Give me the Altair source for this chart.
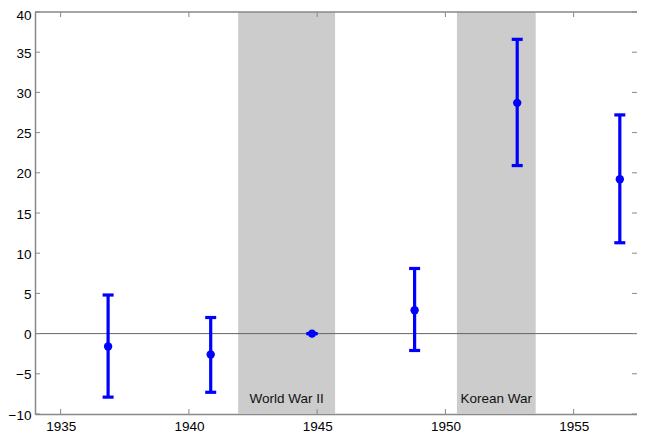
import altair as alt
import pandas as pd

# ---- data ----
years = [1936.85, 1940.85, 1944.8, 1948.8, 1952.8, 1956.8]
means = [-1.6, -2.6, 0.0, 2.9, 28.7, 19.2]
lower = [-7.9, -7.3, 0.0, -2.1, 20.9, 11.3]
upper = [4.8, 2.0, 0.0, 8.1, 36.6, 27.2]

war_names = ["World War II", "Korean War"]
war_start = [1941.92, 1950.45]
war_end = [1945.7, 1953.52]

x_ticks = [1935, 1940, 1945, 1950, 1955]
y_ticks = [-10, -5, 0, 5, 10, 15, 20, 25, 30, 35, 40]

FONT = "Liberation Sans"
W, H = 602, 402
BLUE = "#0000ff"
FRAME = "#888888"

df = pd.DataFrame({"year": years, "mean": means, "lo": lower, "hi": upper})
caps = pd.DataFrame({"year": years * 2, "v": lower + upper})
wars = pd.DataFrame({"name": war_names, "start": war_start, "end": war_end})
xt = pd.DataFrame({"t": x_ticks})
yt = pd.DataFrame({"t": y_ticks})
zero = pd.DataFrame({"v": [0]})
one = pd.DataFrame({"a": [0]})

# the reference's x-axis runs past the picture's right edge
xs = alt.Scale(domain=[1934, 1957.47], nice=False, zero=False)
ys = alt.Scale(domain=[-10, 40], nice=False, zero=False)
xaxis = alt.Axis(values=x_ticks, format="d", title=None, grid=False, ticks=False, tickSize=0,
                 labelPadding=5, domainColor=FRAME, domainWidth=1.5,
                 labelFontSize=13.5, labelColor="#000", labelFont=FONT, labelFlush=False)
yaxis = alt.Axis(values=y_ticks, title=None, grid=False, ticks=False, tickSize=0,
                 labelPadding=4,
                 labelOffset={"condition": {"test": "datum.value == 40", "value": 3}, "value": 1},
                 domainColor=FRAME, domainWidth=1.5,
                 labelFontSize=13.5, labelColor="#000", labelFont=FONT, labelFlush=False)


def X(f):
    return alt.X(f, type="quantitative", scale=xs, axis=xaxis)


def Y(f):
    return alt.Y(f, type="quantitative", scale=ys, axis=yaxis)


shade = alt.Chart(wars).mark_rect(color="#cccccc").encode(x=X("start"), x2="end")

war_text = alt.Chart(wars).transform_calculate(mid="(datum.start + datum.end) / 2").mark_text(
    font=FONT, fontSize=13.5, color="#111", align="center", baseline="alphabetic"
).encode(x=X("mid"), y=alt.value(H - 11), text="name:N")

zero_line = alt.Chart(zero).mark_rule(color="#666", strokeWidth=1).encode(y=Y("v"))

bars = alt.Chart(df).mark_rule(color=BLUE, strokeWidth=3.2).encode(x=X("year"), y=Y("lo"), y2="hi")
cap_marks = alt.Chart(caps).mark_tick(color=BLUE, orient="horizontal", size=11, thickness=3.2, opacity=1).encode(
    x=X("year"), y=Y("v"))
pts = alt.Chart(df).mark_circle(color=BLUE, size=70, opacity=1).encode(x=X("year"), y=Y("mean"))

tick_style = dict(color=FRAME, strokeWidth=1)
left_ticks = alt.Chart(yt).mark_rule(**tick_style).encode(y=Y("t"), x=alt.value(0), x2=alt.value(5))
right_ticks = alt.Chart(yt).mark_rule(**tick_style).encode(y=Y("t"), x=alt.value(W - 5), x2=alt.value(W))
bottom_ticks = alt.Chart(xt).mark_rule(**tick_style).encode(x=X("t"), y=alt.value(H - 5), y2=alt.value(H))
top_ticks = alt.Chart(xt).mark_rule(**tick_style).encode(x=X("t"), y=alt.value(0), y2=alt.value(5))
top_border = alt.Chart(one).mark_rule(color=FRAME, strokeWidth=1.5).encode(
    x=alt.value(0), x2=alt.value(W), y=alt.value(0))

chart = alt.layer(
    shade, zero_line, war_text, bars, cap_marks, pts,
    left_ticks, right_ticks, bottom_ticks, top_ticks, top_border
).properties(
    width=W, height=H,
    autosize=alt.AutoSizeParams(type="none"),
    padding={"left": 27, "top": 4, "right": 0, "bottom": 19},
    background="white",
).configure_view(stroke=None)

chart.save("out.html", embed_options={"renderer": "svg", "actions": False})
